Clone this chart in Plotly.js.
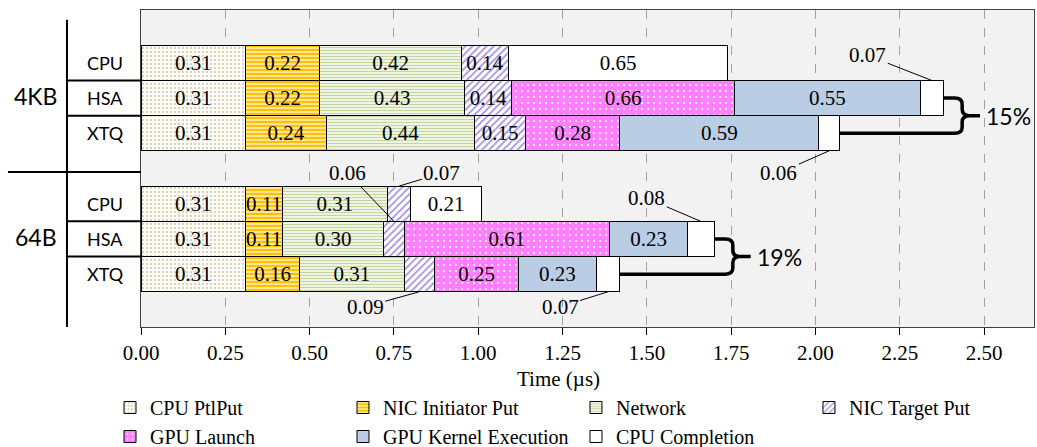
<!DOCTYPE html>
<html><head><meta charset="utf-8">
<script src="https://cdn.plot.ly/plotly-3.0.1.min.js"></script>
<style>html,body{margin:0;padding:0;background:#fff}#chart{width:1037px;height:447px}</style>
</head><body><div id="chart"></div>
<script>
// ---- data ----
const groups = ['4KB', '64B'];
const systems = ['CPU', 'HSA', 'XTQ'];
// row order: 4KB CPU, 4KB HSA, 4KB XTQ, 64B CPU, 64B HSA, 64B XTQ
const cpuPtlPut     = [0.31, 0.31, 0.31, 0.31, 0.31, 0.31];
const nicInitPut    = [0.22, 0.22, 0.24, 0.11, 0.11, 0.16];
const network       = [0.42, 0.43, 0.44, 0.31, 0.30, 0.31];
const nicTargetPut  = [0.14, 0.14, 0.15, 0.07, 0.06, 0.09];
const gpuLaunch     = [0.00, 0.66, 0.28, 0.00, 0.61, 0.25];
const gpuKernel     = [0.00, 0.55, 0.59, 0.00, 0.23, 0.23];
const cpuCompletion = [0.65, 0.07, 0.06, 0.21, 0.08, 0.07];
const componentNames = ['CPU PtlPut', 'NIC Initiator Put', 'Network', 'NIC Target Put',
                        'GPU Launch', 'GPU Kernel Execution', 'CPU Completion'];
const savings = ['15%', '19%'];
const xTickVals = [0, 0.25, 0.5, 0.75, 1, 1.25, 1.5, 1.75, 2, 2.25, 2.5];
const xTitle = 'Time (µs)';

// ---- styles ----
const series = [cpuPtlPut, nicInitPut, network, nicTargetPut, gpuLaunch, gpuKernel, cpuCompletion];
const styles = [
  {color: '#fcfbf6', pattern: {shape: '.', bgcolor: '#fcfbf6', fgcolor: '#cdc5a3', size: 4, solidity: 0.2, fillmode: 'replace'}},
  {color: '#ffc000', pattern: {shape: '-', bgcolor: '#ffc000', fgcolor: '#ffffff', size: 4, solidity: 0.3, fillmode: 'replace'}},
  {color: '#ffffff', pattern: {shape: '-', bgcolor: '#ffffff', fgcolor: '#c3d69b', size: 3, solidity: 0.5, fillmode: 'replace'}},
  {color: '#ffffff', pattern: {shape: '/', bgcolor: '#ffffff', fgcolor: '#a995dd', size: 5, solidity: 0.35, fillmode: 'replace'}},
  {color: '#ff80ff', pattern: {shape: '.', bgcolor: '#ff80ff', fgcolor: '#ffffff', size: 6, solidity: 0.1, fillmode: 'replace'}},
  {color: '#b9cde5'},
  {color: '#ffffff'}
];
const serif = 'Liberation Serif, Times New Roman, serif';
const sans = 'Lato, Calibri, sans-serif';

const nRows = groups.length * systems.length;
const rowY = [];
for (let i = 0; i < nRows; i++) {
  const g = Math.floor(i / systems.length), s = i % systems.length;
  rowY.push(7 - g * 4 - s);
}

// legend columns (4 columns, 2 rows, filled row by row)
const legendIds = ['legend', 'legend2', 'legend3', 'legend4'];
const traces = series.map((vals, k) => ({
  type: 'bar', orientation: 'h', name: componentNames[k],
  x: vals.map(v => v > 0 ? v : null), y: rowY, width: 1,
  text: vals.map(v => v >= 0.1 ? v.toFixed(2) : ''),
  textposition: 'inside', insidetextanchor: 'middle', textangle: 0,
  textfont: {family: serif, size: 21, color: '#000'},
  marker: Object.assign({line: {color: '#000', width: 1}}, styles[k]),
  legend: legendIds[k % 4],
  hoverinfo: 'skip'
}));

// cumulative starts
const starts = series.map(() => new Array(nRows).fill(0));
for (let i = 0; i < nRows; i++) {
  let acc = 0;
  for (let k = 0; k < series.length; k++) { starts[k][i] = acc; acc += series[k][i]; }
}
const totals = rowY.map((_, i) => series.reduce((a, s) => a + s[i], 0));

const annotations = [];
// callouts for narrow segments
const callouts = [
  {row: 1, comp: 6, ax: -64, ay: -25, edge: 1},
  {row: 2, comp: 6, ax: -50, ay: 22, edge: -1},
  {row: 3, comp: 3, ax: 43, ay: -13, edge: 1},
  {row: 4, comp: 3, ax: -46, ay: -48, edge: 1},
  {row: 4, comp: 6, ax: -54, ay: -23, edge: 1},
  {row: 5, comp: 3, ax: -54, ay: 15, edge: -1},
  {row: 5, comp: 6, ax: -48, ay: 15, edge: -1}
];
callouts.forEach(c => {
  const v = series[c.comp][c.row];
  annotations.push({
    x: starts[c.comp][c.row] + v / 2, y: rowY[c.row] + 0.5 * c.edge, xref: 'x', yref: 'y',
    text: v.toFixed(2), showarrow: true, arrowhead: 0, arrowwidth: 1, arrowcolor: '#000',
    ax: c.ax, ay: c.ay, font: {family: serif, size: 21, color: '#000'}
  });
});
// system labels
rowY.forEach((y, i) => {
  annotations.push({x: -0.0403, xref: 'paper', y: y, yref: 'y', text: systems[i % systems.length],
    showarrow: false, xanchor: 'center', yanchor: 'middle', font: {family: sans, size: 18, color: '#000'}});
});
// group labels
groups.forEach((g, gi) => {
  annotations.push({x: -0.1176, xref: 'paper', y: rowY[gi * 3 + 1] + 0.05, yref: 'y', text: g,
    showarrow: false, xanchor: 'center', yanchor: 'middle', font: {family: sans, size: 23, color: '#000'}});
});
// x title
annotations.push({x: 0.467, xref: 'paper', y: -0.164, yref: 'paper', text: xTitle, showarrow: false,
  xanchor: 'center', yanchor: 'middle', font: {family: serif, size: 21, color: '#000'}});

// braces and saving labels
const shapes = [];
groups.forEach((g, gi) => {
  const iT = gi * 3 + 1, iB = gi * 3 + 2;
  const eT = totals[iT], eB = totals[iB];
  const b = Math.max(eT, eB) + 0.055, tip = Math.max(eT, eB) + 0.108;
  const yT = rowY[iT], yB = rowY[iB], ym = (yT + yB) / 2;
  const rx = 0.022, ry = 0.18;
  const path = `M ${eT},${yT} L ${b - rx},${yT} Q ${b},${yT} ${b},${yT - ry} L ${b},${ym + ry} ` +
    `Q ${b},${ym} ${b + rx},${ym} L ${tip},${ym} M ${b + rx},${ym} Q ${b},${ym} ${b},${ym - ry} ` +
    `L ${b},${yB + ry} Q ${b},${yB} ${b - rx},${yB} L ${eB},${yB}`;
  shapes.push({type: 'path', xref: 'x', yref: 'y', path: path, line: {color: '#000', width: 3.5}, layer: 'above'});
  annotations.push({x: tip + 0.012, y: ym, xref: 'x', yref: 'y', text: savings[gi], showarrow: false,
    xanchor: 'left', yanchor: 'middle', font: {family: sans, size: 23, color: '#000'}});
});
// left hierarchy lines
const lx = -0.0829;
shapes.push({type: 'line', xref: 'paper', yref: 'y', x0: lx, x1: lx, y0: 8.22, y1: -0.5, line: {color: '#000', width: 2}});
shapes.push({type: 'line', xref: 'paper', yref: 'y', x0: -0.149, x1: 0, y0: 3.9, y1: 3.9, line: {color: '#000', width: 2}});
groups.forEach((g, gi) => {
  for (let s = 1; s < systems.length; s++) {
    const yb = rowY[gi * 3 + s] + 0.5;
    shapes.push({type: 'line', xref: 'paper', yref: 'y', x0: lx, x1: 0, y0: yb, y1: yb, line: {color: '#000', width: 2}});
  }
});

const legendBase = {orientation: 'v', xref: 'paper', yref: 'container', xanchor: 'left', y: 0.132, yanchor: 'top',
  traceorder: 'normal', font: {family: serif, size: 20, color: '#000'}, bgcolor: 'rgba(0,0,0,0)', itemclick: false,
  tracegroupgap: 0};
const legendX = [-0.0347, 0.2262, 0.4871, 0.748];

const layout = {
  width: 1037, height: 447,
  margin: {l: 141, r: 3, t: 10, b: 120},
  paper_bgcolor: '#ffffff', plot_bgcolor: '#f2f2f2',
  barmode: 'stack', bargap: 0,
  showlegend: true,
  xaxis: {range: [0, 2.648], tickvals: xTickVals, tickformat: '.2f', ticks: 'outside', ticklen: 7,
    tickcolor: '#000', tickwidth: 1, showgrid: true, gridcolor: '#a0a0a0', griddash: 'dash', gridwidth: 1,
    zeroline: false, showline: true, mirror: true, linecolor: '#404040', linewidth: 1,
    tickfont: {family: serif, size: 21, color: '#000'}, fixedrange: true},
  yaxis: {range: [-0.5, 8.5], showticklabels: false, ticks: '', showgrid: false, zeroline: false,
    showline: true, mirror: true, linecolor: '#404040', linewidth: 1, fixedrange: true},
  uniformtext: {mode: 'show', minsize: 21},
  annotations: annotations,
  shapes: shapes
};
legendIds.forEach((id, j) => { layout[id] = Object.assign({}, legendBase, {x: legendX[j]}); });

Plotly.newPlot('chart', traces, layout, {displayModeBar: false, staticPlot: true});
</script>
</body></html>
